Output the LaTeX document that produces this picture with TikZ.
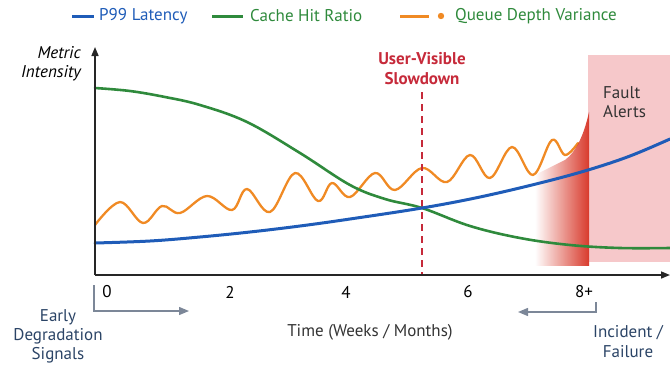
\documentclass[tikz,border=0pt]{standalone}
\usepackage{fontspec}
\setmainfont{PT Sans}
\usetikzlibrary{arrows.meta,fadings}
\definecolor{pblue}{HTML}{1F5CB8}
\definecolor{cgreen}{HTML}{2F8A3C}
\definecolor{qorange}{HTML}{F08A24}
\definecolor{sred}{HTML}{C62A3A}
\definecolor{fpink}{HTML}{F6C8CA}
\definecolor{fred}{HTML}{D83A2C}
\definecolor{navy}{HTML}{2B4466}
\definecolor{bgray}{HTML}{7C8798}
\definecolor{dtext}{HTML}{333333}
\tikzfading[name=fadeinright, left color=transparent!100, right color=transparent!0]
\begin{document}
\begin{tikzpicture}[x=1pt,y=-1pt,
  lab/.style={font=\fontsize{17}{20}\selectfont, inner sep=0pt},
  axisline/.style={line width=1.6pt, draw=black!85, -{Triangle[length=9pt,width=7pt]}},
  bracket/.style={line width=1.3pt, draw=bgray, -{Triangle[length=10pt,width=8pt]}},
  curve/.style={line width=2.6pt, line cap=round, line join=round}]
\useasboundingbox (0,0) rectangle (670,365);

% legend
\coordinate (lb1) at (72,16); \coordinate (lb2) at (94,16);
\draw[pblue, line width=3pt] (lb1) -- (lb2);
\node[lab, anchor=west, text=pblue] (lbt) at (99,16) {P99 Latency};
\coordinate (lg1) at (212,16); \coordinate (lg2) at (243,16);
\draw[cgreen, line width=3pt] (lg1) -- (lg2);
\node[lab, anchor=west, text=cgreen] (lgt) at (250,16) {Cache Hit Ratio};
\coordinate (lo1) at (400,16); \coordinate (lo2) at (429,16);
\draw[qorange, line width=3pt] (lo1) -- (lo2);
\fill[qorange] (441,16) circle (3.2pt);
\node[lab, anchor=west, text=cgreen] (lot) at (455,16) {Queue Depth Variance};

% fault region
\fill[fpink] (588,55) rectangle (670,262);
\node[lab, anchor=west, align=left, text=dtext, font=\fontsize{17}{19}\selectfont] (fault) at (603,102) {Fault\\Alerts};

% orange
\draw[qorange, curve, line width=2.3pt] plot[smooth, tension=0.6] coordinates {
 (95,225) (120,202) (143,223) (162,206) (180,213) (207,196) (232,210) (247,189)
 (270,212) (295,173) (318,201) (332,183) (350,197) (375,173) (395,190) (422,168)
 (447,182) (470,155) (490,178) (512,147) (533,175) (552,140) (565,155) (578,143)};

% red fading region
\fill[fred, path fading=fadeinright] (535,266) -- (535,175) -- (565,160) .. controls (576,152) and (584,135) .. (589,112) -- (589,266) -- cycle;

% slowdown
\node[lab, align=center, text=sred, font=\fontsize{17}{20}\selectfont\bfseries] (slow) at (422,69) {User-Visible\\Slowdown};
\coordinate (sd1) at (422,92); \coordinate (sd2) at (422,275);
\draw[sred, line width=2.6pt, dash pattern=on 7pt off 5pt] (sd1) -- (sd2);

% green
\draw[cgreen, curve] plot[smooth, tension=0.6] coordinates {
 (95,88) (130,91) (165,97) (200,105) (247,122) (300,153) (350,185) (385,199)
 (422,208) (470,226) (520,238) (570,245) (620,248) (670,248)};

% blue
\draw[pblue, curve, line width=3pt] plot[smooth, tension=0.6] coordinates {
 (95,243) (150,241) (200,237) (250,232) (300,226) (350,219) (422,208) (480,197)
 (540,183) (588,170) (630,156) (670,139)};

% axes
\coordinate (O) at (95,275); \coordinate (ytip) at (95,47); \coordinate (xtip) at (670,275);
\draw[axisline] (O) -- (ytip);
\draw[axisline] (O) -- (xtip);
\node[lab, anchor=east, align=right, font=\fontsize{17}{19}\selectfont\itshape] (ylab) at (81,64) {Metric\\Intensity};

% ticks
\node[lab] (t0) at (107,292) {0};
\node[lab] (t2) at (230,292) {2};
\node[lab] (t4) at (346,292) {4};
\node[lab] (t6) at (468,292) {6};
\node[lab] (t8) at (584,292) {8+};

% brackets
\coordinate (bl1) at (94,285); \coordinate (bl2) at (189,311);
\draw[bracket] (bl1) |- (bl2);
\coordinate (br1) at (596,302); \coordinate (br2) at (518,312);
\draw[bracket] (br1) |- (br2);

\node[lab, align=center, text=navy, font=\fontsize{17}{19}\selectfont] (early) at (58,336) {Early\\Degradation\\Signals};
\node[lab, text=dtext] (time) at (370,332) {Time (Weeks / Months)};
\node[lab, align=center, text=navy, font=\fontsize{17}{20}\selectfont] (inc) at (628,342) {Incident /\\Failure};
\end{tikzpicture}
\end{document}
